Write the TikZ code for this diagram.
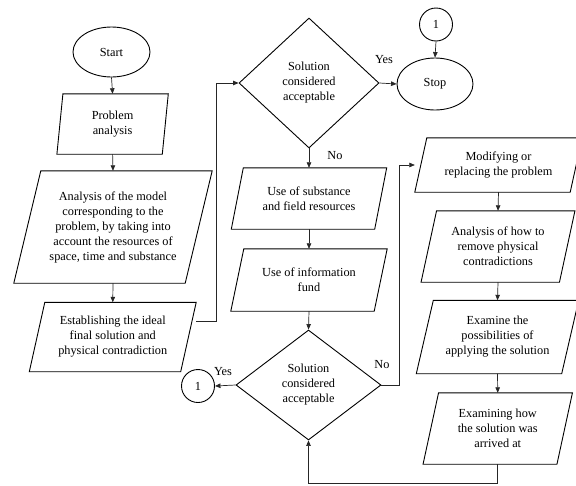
\documentclass[tikz,border=0pt]{standalone}
\usepackage{fontspec}
\setmainfont{Liberation Serif}
\newfontfamily\serifface{Liberation Serif}
\usetikzlibrary{shapes.geometric,arrows.meta,calc}
\tikzset{
  shp/.style={draw=black, line width=0.9pt},
  pbox/.style={rectangle, draw=none, inner sep=0pt, align=center},
  oval/.style={ellipse, shp, inner sep=0pt, align=center},
  dec/.style={diamond, shp, inner sep=0pt, align=center},
  conn/.style={circle, shp, inner sep=0pt, minimum size=33pt},
  link/.style={draw=black!85, line width=0.7pt},
  arr/.style={link, -{Triangle[length=5.5pt,width=4.5pt]}},
  lbl/.style={inner sep=0pt}
}
\newcommand\pgm[2]{\draw[shp] ([xshift=#2]#1.north west) -- ([xshift=#2]#1.north east) -- ([xshift=-#2]#1.south east) -- ([xshift=-#2]#1.south west) -- cycle;}
\begin{document}
\begin{tikzpicture}[x=1pt,y=-1pt,font=\serifface\fontsize{12.3}{15}\selectfont]
\clip (0,0) rectangle (576,485);
\fill[white] (0,0) rectangle (576,485);
% left column
\node[oval, minimum width=77pt, minimum height=50pt] (start) at (111.5,52) {Start};
\node[pbox, minimum width=105pt, minimum height=60pt] (prob) at (112.6,124) {Problem\\analysis};
\pgm{prob}{3pt}
\node[pbox, minimum width=171pt, minimum height=112pt] (ana) at (113,227) {Analysis of the model\\corresponding to the\\problem, by taking into\\account the resources of\\space, time and substance};
\pgm{ana}{13.5pt}
\node[pbox, minimum width=151pt, minimum height=69pt] (est) at (112.75,337) {Establishing the ideal\\final solution and\\physical contradiction};
\pgm{est}{7.75pt}
% middle column
\node[dec, minimum width=140pt, minimum height=130pt] (d1) at (309,83) {Solution\\considered\\acceptable};
\node[oval, minimum width=76pt, minimum height=52pt] (stop) at (435,84) {Stop};
\node[conn] (c1) at (436,24.5) {1};
\node[pbox, minimum width=143pt, minimum height=61pt] (sub) at (309,198.5) {Use of substance\\and field resources};
\pgm{sub}{6pt}
\node[pbox, minimum width=143pt, minimum height=62pt] (info) at (309,280) {Use of information\\fund};
\pgm{info}{6.5pt}
\node[dec, minimum width=145pt, minimum height=110pt] (d2) at (308.5,385) {Solution\\considered\\acceptable};
\node[conn] (c2) at (198,386) {1};
% right column
\node[pbox, minimum width=155pt, minimum height=54pt] (mod) at (498.5,165) {Modifying or\\replacing the problem};
\pgm{mod}{6pt}
\node[pbox, minimum width=138pt, minimum height=71pt] (anh) at (498,246.5) {Analysis of how to\\remove physical\\contradictions};
\pgm{anh}{7.75pt}
\node[pbox, minimum width=145pt, minimum height=73pt] (exa) at (497.5,337) {Examine the\\possibilities of\\applying the solution};
\pgm{exa}{8.5pt}
\node[pbox, minimum width=133.5pt, minimum height=71pt] (exh) at (497.75,428.5) {Examining how\\the solution was\\arrived at};
\pgm{exh}{7.75pt}
% connectors
\draw[arr] (start.south) -- (prob.north);
\draw[arr] (prob.south) -- (ana.north);
\draw[arr] (ana.south) -- (est.north);
\coordinate (lx) at (216.5,321.5);
\draw[arr] ([xshift=8pt,yshift=15.5pt]est.east) -- (lx) |- (d1.west);
\draw[arr] (d1.east) -- (stop.west);
\draw[arr] (c1.south) -- (stop.north);
\draw[arr] (d1.south) -- (sub.north);
\draw[arr] (sub.south) -- (info.north);
\draw[arr] (info.south) -- (d2.north);
\draw[arr] (d2.west) -- (c2.east);
\coordinate (rx) at (399,165);
\draw[arr] (d2.east) -| (rx) -- ([xshift=-6pt]mod.west);
\draw[arr] (mod.south) -- (anh.north);
\draw[arr] (anh.south) -- (exa.north);
\draw[arr] (exa.south) -- (exh.north);
\coordinate (bl) at (308.5,483);
\draw[arr] (exh.south) |- (bl) -- (d2.south);
% labels
\node[lbl] (y1) at (384,60) {Yes};
\node[lbl] (n1) at (335,156) {No};
\node[lbl] (y2) at (223,372) {Yes};
\node[lbl] (n2) at (382,365) {No};
\end{tikzpicture}
\end{document}
